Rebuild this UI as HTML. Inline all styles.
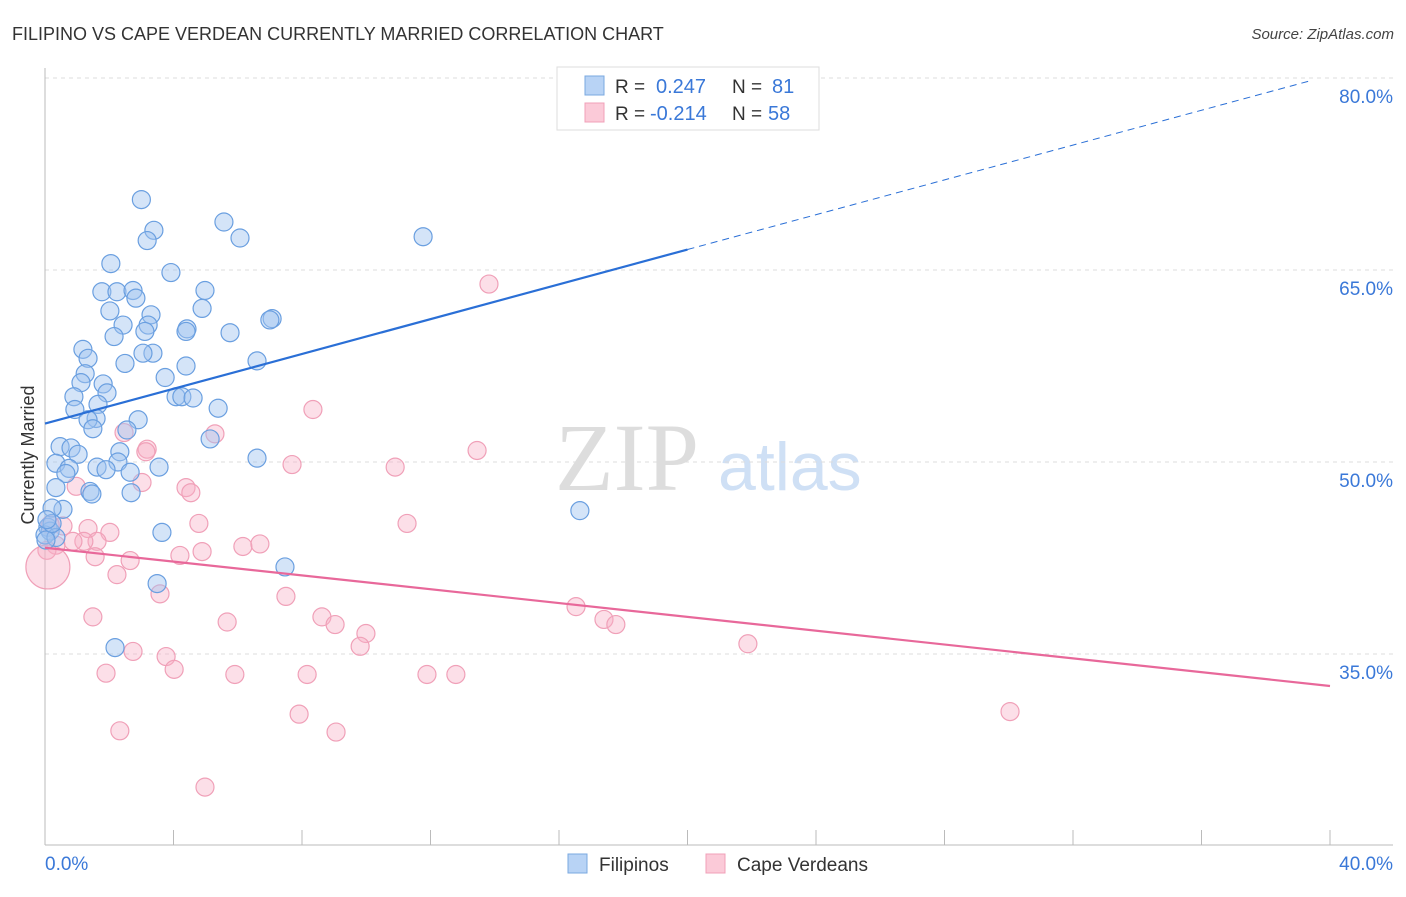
<!DOCTYPE html>
<html><head><meta charset="utf-8"><style>
body{margin:0;background:#fff;font-family:"Liberation Sans",sans-serif;}
svg text{font-family:"Liberation Sans",sans-serif;}
</style></head><body>
<svg id="chart" width="1406" height="892">
<text x="12" y="40" font-size="18" fill="#333">FILIPINO VS CAPE VERDEAN CURRENTLY MARRIED CORRELATION CHART</text>
<text x="1394" y="39" font-size="15" fill="#444" font-style="italic" text-anchor="end">Source: ZipAtlas.com</text>
<text transform="translate(34,455) rotate(-90)" font-size="18" fill="#333" text-anchor="middle">Currently Married</text>
<text x="555" y="490" font-size="96" fill="#ddd" font-family="Liberation Serif" style="font-family:'Liberation Serif',serif">ZIP</text>
<text x="718" y="490" font-size="68" fill="#cfe0f5">atlas</text>
<g id="grid"></g><g id="marks"></g>
<g>
<rect x="557" y="67" width="262" height="63" fill="#fff" stroke="#ddd"/>
<rect x="585" y="76" width="19" height="19" fill="#b8d3f5" stroke="#7aa8e0"/>
<rect x="585" y="103" width="19" height="19" fill="#fbcad8" stroke="#f0a0b8"/>
<text x="615" y="93" font-size="19" fill="#333">R =</text><text x="656" y="93" font-size="20" fill="#3a78d8">0.247</text>
<text x="732" y="93" font-size="19" fill="#333">N =</text><text x="772" y="93" font-size="20" fill="#3a78d8">81</text>
<text x="615" y="120" font-size="19" fill="#333">R =</text><text x="650" y="120" font-size="20" fill="#3a78d8">-0.214</text>
<text x="732" y="120" font-size="19" fill="#333">N =</text><text x="768" y="120" font-size="20" fill="#3a78d8">58</text>
</g>
<g>
<rect x="568" y="854" width="19" height="19" fill="#b8d3f5" stroke="#7aa8e0"/>
<text x="599" y="871" font-size="19" fill="#333">Filipinos</text>
<rect x="706" y="854" width="19" height="19" fill="#fbcad8" stroke="#f0a0b8"/>
<text x="737" y="871" font-size="19" fill="#333">Cape Verdeans</text>
</g>
</svg>
<script>
const yTicks=[35,50,65,80];
const xTickLabels=["0.0%","40.0%"];
const blueX=[3.0,5.57,3.39,6.07,3.18,11.77,2.05,3.92,1.77,2.24,2.74,4.98,2.83,2.02,4.89,3.30,7.07,7.0,2.43,3.21,4.42,4.39,5.76,3.11,2.15,1.18,1.34,3.36,3.05,6.6,2.49,4.39,1.25,3.74,1.12,1.81,1.93,0.9,4.08,4.26,4.61,0.93,5.39,1.65,1.59,2.9,1.34,1.49,2.55,5.14,0.47,0.81,1.03,2.33,6.6,0.34,3.55,1.62,2.27,1.9,0.75,0.65,2.65,0.34,1.4,1.46,2.68,0.56,16.65,0.22,0.09,0.16,3.64,0,0.34,7.47,3.49,2.18,0.03,0.22,0.06];
const blueY=[70.5,68.75,68.1,67.5,67.3,67.6,65.5,64.8,63.3,63.3,63.4,63.4,62.8,61.8,62.0,61.5,61.2,61.1,60.7,60.7,60.4,60.2,60.1,60.2,59.8,58.8,58.1,58.5,58.5,57.9,57.7,57.5,56.9,56.6,56.2,56.1,55.4,55.1,55.1,55.1,55.0,54.1,54.2,54.5,53.4,53.3,53.3,52.6,52.5,51.8,51.2,51.1,50.6,50.8,50.3,49.9,49.6,49.6,50.0,49.4,49.5,49.1,49.2,48.0,47.7,47.5,47.6,46.3,46.2,46.4,44.9,44.6,44.5,44.3,44.1,41.8,40.5,35.5,43.9,45.2,45.5];
const pinkX=[13.82,8.34,2.46,5.29,3.18,3.14,13.45,10.9,7.69,0.97,3.02,4.39,4.54,4.79,11.27,0.56,1.34,2.02,0.16,1.62,1.21,0.87,0.34,0.06,6.16,6.69,4.89,4.2,1.56,2.65,2.24,3.58,7.5,16.53,17.4,17.77,8.62,9.03,9.99,1.49,5.67,9.81,21.88,2.74,3.77,4.02,1.9,5.91,8.16,11.89,12.79,7.91,30.04,2.33,9.06,4.98,0.09];
const pinkY=[63.9,54.1,52.3,52.2,51.0,50.8,50.9,49.6,49.8,48.1,48.4,48.0,47.6,45.2,45.2,45.0,44.8,44.5,45.1,43.8,43.8,43.8,43.5,43.1,43.4,43.6,43.0,42.7,42.6,42.3,41.2,39.7,39.5,38.7,37.7,37.3,37.9,37.3,36.6,37.9,37.5,35.6,35.8,35.2,34.8,33.8,33.5,33.4,33.4,33.4,33.4,30.3,30.5,29.0,28.9,24.6,41.8];
const blueTrend=[53.0,80.2];
const pinkTrend=[43.3,32.5];
const NS="http://www.w3.org/2000/svg";
const X=v=>45+v/40*1285, Y=v=>462-(v-50)*12.8;
function mk(t,a,p){const e=document.createElementNS(NS,t);for(const k in a)e.setAttribute(k,a[k]);p.appendChild(e);return e;}
const g=document.getElementById('grid'),m=document.getElementById('marks');
yTicks.forEach(v=>{
 const l=mk('line',{x1:45,x2:1393,y1:Y(v),y2:Y(v),stroke:'#ddd','stroke-dasharray':'4,4'},g);
 
 
 const t=mk('text',{x:1393,y:Y(v)+25,'font-size':19,fill:'#3a78d8','text-anchor':'end'},g);t.textContent=v.toFixed(1)+'%';
 
 
});
mk('line',{x1:45,x2:45,y1:68,y2:845,stroke:'#bbb'},g);
mk('line',{x1:45,x2:1393,y1:845,y2:845,stroke:'#bbb'},g);
for(let i=1;i<=10;i++)mk('line',{x1:X(i*4),x2:X(i*4),y1:830,y2:845,stroke:'#bbb'},g);
[[0,'start'],[40,'end']].forEach((d,i)=>{const t=mk('text',{x:i?1393:45,y:870,'font-size':19,fill:'#3a78d8','text-anchor':d[1]},g);t.textContent=xTickLabels[i];
 
 });
pinkX.forEach((x,i)=>{const last=i==pinkX.length-1;
 const c=mk('circle',{cx:X(x),cy:Y(pinkY[i]),r:last?22:9,fill:'rgba(248,176,198,0.4)',stroke:'#f0a0b8','stroke-width':1.2},m);
 
 });
blueX.forEach((x,i)=>{
 const c=mk('circle',{cx:X(x),cy:Y(blueY[i]),r:9,fill:'rgba(160,196,240,0.45)',stroke:'#6a9fe0','stroke-width':1.2},m);
 
 });
const bAt=x=>blueTrend[0]+(blueTrend[1]-blueTrend[0])*x/40;
let l=mk('line',{x1:X(0),y1:Y(bAt(0)),x2:X(20),y2:Y(bAt(20)),stroke:'#2a6fd6','stroke-width':2.2},m);


l=mk('line',{x1:X(20),y1:Y(bAt(20)),x2:X(39.4),y2:Y(bAt(39.4)),stroke:'#2a6fd6','stroke-width':1,'stroke-dasharray':'7,5'},m);


l=mk('line',{x1:X(0),y1:Y(pinkTrend[0]),x2:X(40),y2:Y(pinkTrend[1]),stroke:'#e8689a','stroke-width':2.2},m);


</script>
</body></html>
